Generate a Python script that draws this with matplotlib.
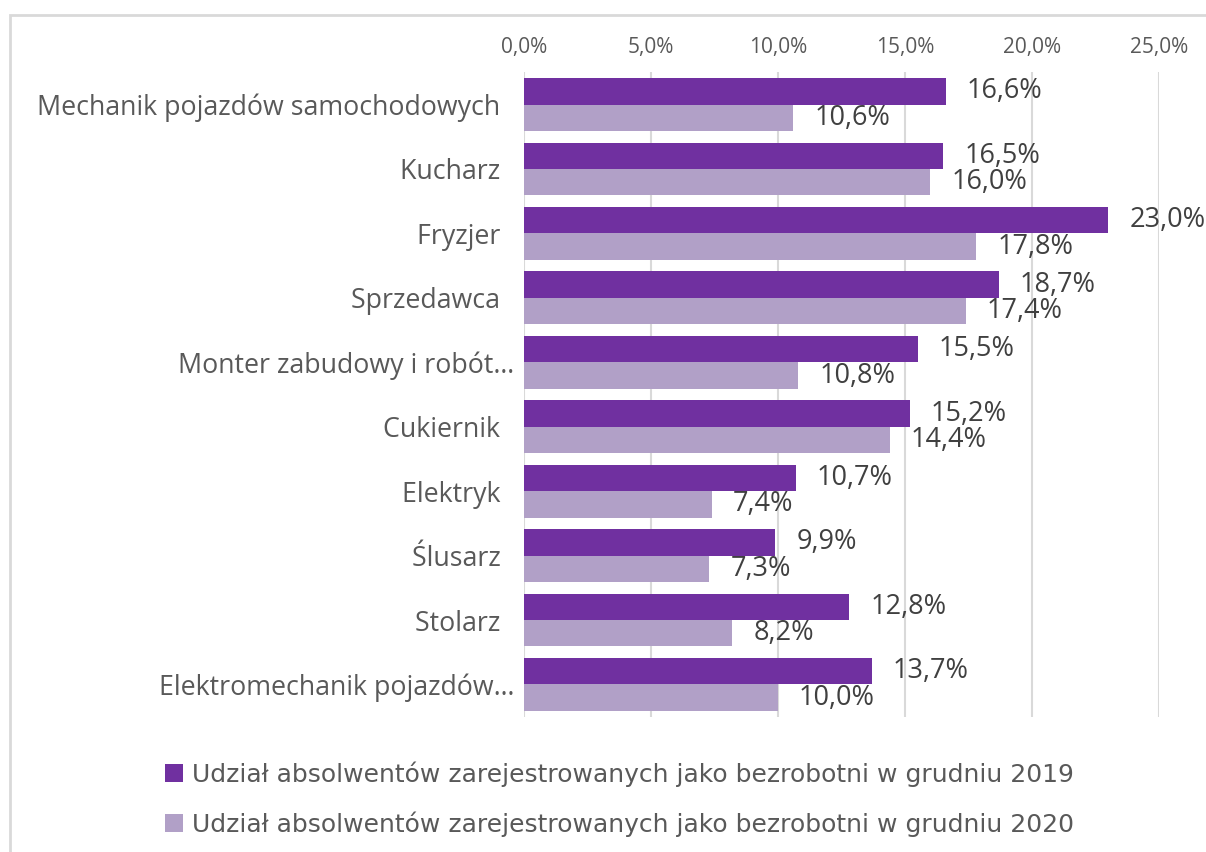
import numpy as np
import matplotlib.pyplot as plt
from matplotlib.patches import Rectangle
from matplotlib.ticker import FuncFormatter

# occupations (top to bottom) and shares of unemployed graduates, %
categories = ['Mechanik pojazdów samochodowych  ', 'Kucharz  ', 'Fryzjer  ', 'Sprzedawca  ',
              'Monter zabudowy i robót…', 'Cukiernik  ', 'Elektryk  ', 'Ślusarz  ',
              'Stolarz  ', 'Elektromechanik pojazdów…']
share_2019 = [16.6, 16.5, 23.0, 18.7, 15.5, 15.2, 10.7, 9.9, 12.8, 13.7]
share_2020 = [10.6, 16.0, 17.8, 17.4, 10.8, 14.4, 7.4, 7.3, 8.2, 10.0]
series_names = ['Udział absolwentów zarejestrowanych jako bezrobotni w grudniu 2019',
                'Udział absolwentów zarejestrowanych jako bezrobotni w grudniu 2020']

c19 = '#7030A0'
c20 = '#B1A0C7'
font = 'Open Sans'

fig = plt.figure(figsize=(12.06, 8.52), dpi=100)
ax = fig.add_axes([0.4345, 0.1588, 0.5265, 0.7563])

y = np.arange(len(categories))
h = 0.41
b1 = ax.barh(y - h / 2, share_2019, height=h, color=c19, label=series_names[0])
b2 = ax.barh(y + h / 2, share_2020, height=h, color=c20, label=series_names[1])

for bars, vals in ((b1, share_2019), (b2, share_2020)):
    for rect, v in zip(bars, vals):
        ax.annotate(f'{v:.1f}%'.replace('.', ','),
                    (v, rect.get_y() + rect.get_height() / 2),
                    xytext=(21, 0), textcoords='offset pixels',
                    va='center', ha='left', fontsize=19.5, color='#404040', family=font)

ax.set_xlim(0, 25)
ax.set_ylim(len(categories) - 0.5, -0.5)
ax.set_xticks(np.arange(0, 26, 5))
ax.xaxis.set_major_formatter(FuncFormatter(lambda v, p: f'{v:.1f}%'.replace('.', ',')))
ax.xaxis.tick_top()
ax.set_yticks(y)
ax.set_yticklabels(categories)
ax.tick_params(axis='x', length=0, pad=10, labelsize=15, labelcolor='#595959')
ax.tick_params(axis='y', length=0, pad=7, labelsize=19.3, labelcolor='#595959')
for lab in ax.get_xticklabels() + ax.get_yticklabels():
    lab.set_family(font)
ax.grid(axis='x', color='#D9D9D9', lw=1.5)
ax.set_axisbelow(True)
for s in ax.spines.values():
    s.set_visible(False)

# chart frame, cut by the picture edge
fig.patches.append(Rectangle((10 / 1206, -0.05), 1.1, 1 - 15 / 852 + 0.05,
                             transform=fig.transFigure, fill=False,
                             edgecolor='#D9D9D9', lw=2, clip_on=False))

leg = fig.legend(handles=[b1, b2], loc='upper left', bbox_to_anchor=(142 / 1206, 1 - 739 / 852),
                 frameon=False, handlelength=0.75, handleheight=0.75, handletextpad=0.35,
                 labelspacing=0.97, prop={'family': 'Liberation Sans Narrow', 'size': 18})
for t in leg.get_texts():
    t.set_color('#595959')

fig.savefig('out.png', dpi=100)
